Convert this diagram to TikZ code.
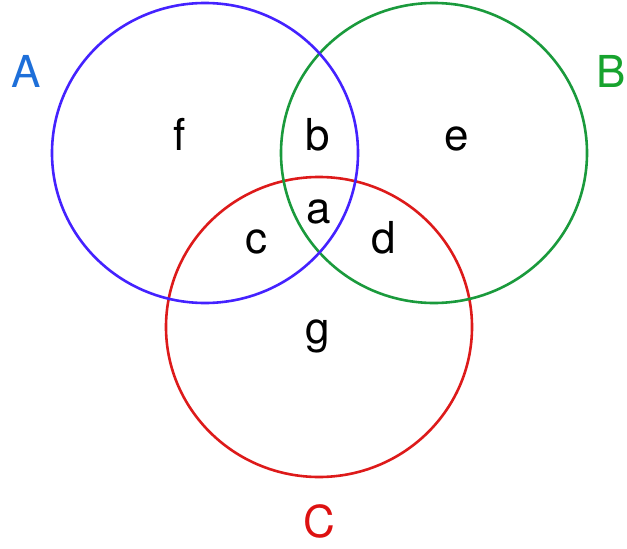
\documentclass[tikz,border=0pt]{standalone}
\usepackage{fontspec}
\setmainfont{TeX Gyre Heros}
\definecolor{cblue}{HTML}{4422FF}
\definecolor{cgreen}{HTML}{1A9A3C}
\definecolor{cred}{HTML}{DD1A1A}
\definecolor{lblue}{HTML}{1E6FD9}
\definecolor{lgreen}{HTML}{17A32E}
\definecolor{lred}{HTML}{DD1111}
\begin{document}
\begin{tikzpicture}[x=1pt,y=-1pt,
  ring/.style={line width=2.6pt},
  lab/.style={anchor=base,inner sep=0pt,font=\fontsize{44}{48}\selectfont}]
\useasboundingbox (0,0) rectangle (627,549);
\draw[ring,cred] (319,327) ellipse [x radius=153, y radius=150];
\draw[ring,cgreen] (434,153) ellipse [x radius=153, y radius=150];
\draw[ring,cblue] (205,153) ellipse [x radius=153, y radius=150];
\node[lab,text=lblue] (A) at (26,87) {A};
\node[lab,text=lgreen] (B) at (611,87) {B};
\node[lab,text=lred] (C) at (319,537) {C};
\node[lab] (f) at (180,150) {f};
\node[lab] (b) at (318,150) {b};
\node[lab] (e) at (457,150) {e};
\node[lab] (a) at (319,223) {a};
\node[lab] (c) at (256,253) {c};
\node[lab] (d) at (384,253) {d};
\node[lab] (g) at (318,343) {g};
\end{tikzpicture}
\end{document}
